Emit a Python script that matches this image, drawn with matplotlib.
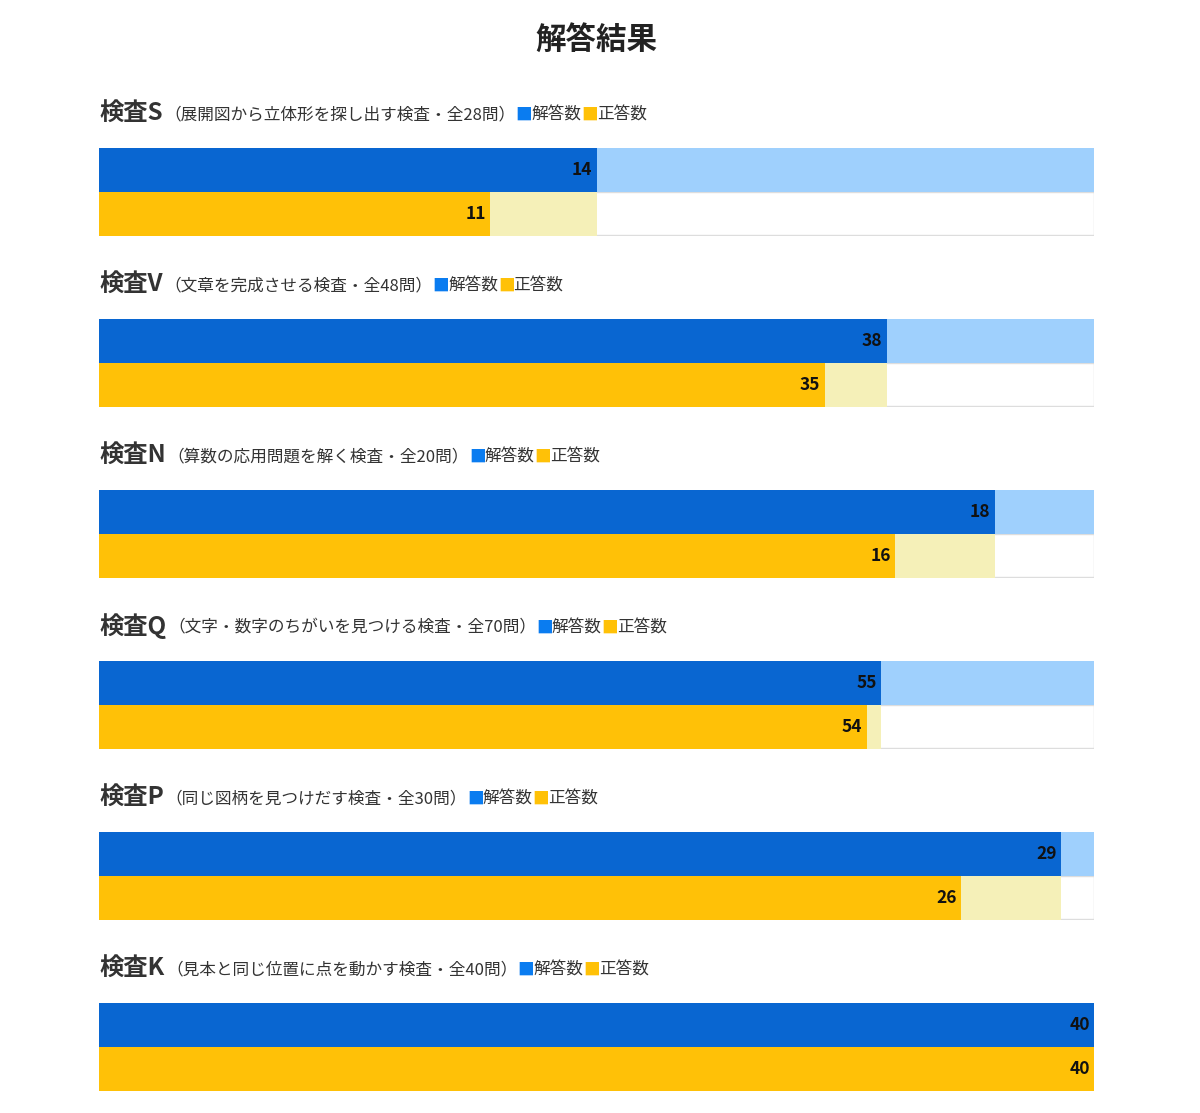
import matplotlib
matplotlib.use("Agg")
import matplotlib.pyplot as plt
from matplotlib.patches import Rectangle

plt.rcParams['font.family'] = ['Noto Sans CJK JP', 'DejaVu Sans']

tests = ["検査S", "検査V", "検査N", "検査Q", "検査P", "検査K"]
descs = ["（展開図から立体形を探し出す検査・全28問）", "（文章を完成させる検査・全48問）",
         "（算数の応用問題を解く検査・全20問）", "（文字・数字のちがいを見つける検査・全70問）",
         "（同じ図柄を見つけだす検査・全30問）", "（見本と同じ位置に点を動かす検査・全40問）"]
totals = [28, 48, 20, 70, 30, 40]
answered = [14, 38, 18, 55, 29, 40]
correct = [11, 35, 16, 54, 26, 40]

BLUE, LBLUE = "#0966d1", "#9fd0fd"
YEL, LYEL = "#ffc107", "#f5f0b8"

W, H = 1200, 1113
fig = plt.figure(figsize=(W / 100, H / 100), dpi=100)
fig.text(596 / W, 1 - 40 / H, "解答結果", ha="center", va="center", fontsize=22, fontweight="bold", color="#222")
renderer = fig.canvas.get_renderer()

def seq_text(x, y, s, **kw):
    t = fig.text(x / W, 1 - y / H, s, va="center", ha="left", **kw)
    bb = t.get_window_extent(renderer=renderer)
    return x + bb.width

for i in range(len(tests)):
    y0 = 113 + 171 * i
    x = seq_text(99, y0, tests[i], fontsize=17.5, fontweight="bold", color="#333")
    x = seq_text(x + 2, y0 + 2, descs[i], fontsize=12, color="#333")
    x = seq_text(x, y0 + 2, "■", fontsize=12, color="#0a7cf0")
    x = seq_text(x - 1, y0 + 2, "解答数", fontsize=12, color="#333")
    x = seq_text(x, y0 + 2, "■", fontsize=12, color=YEL)
    seq_text(x - 1, y0 + 2, "正答数", fontsize=12, color="#333")

    top, bot = y0 + 35, y0 + 123
    ax = fig.add_axes([99 / W, 1 - bot / H, 995 / W, (bot - top) / H])
    ax.set_xlim(0, totals[i])
    ax.set_ylim(0, 2)
    ax.axis("off")
    ax.add_patch(Rectangle((0, 0.02), totals[i], 0.98, facecolor="white", edgecolor="#dddddd", lw=1))
    ax.barh(1.5, totals[i], height=0.98, color=LBLUE)
    ax.barh(1.5, answered[i], height=0.98, color=BLUE)
    ax.barh(0.5, answered[i], height=0.98, color=LYEL)
    ax.barh(0.5, correct[i], height=0.98, color=YEL)
    ax.annotate(str(answered[i]), (answered[i], 1.5), xytext=(-3, 0), textcoords="offset points",
                ha="right", va="center", fontsize=12.5, fontweight="bold", color="#111")
    ax.annotate(str(correct[i]), (correct[i], 0.5), xytext=(-3, 0), textcoords="offset points",
                ha="right", va="center", fontsize=12.5, fontweight="bold", color="#111")

fig.savefig("out.png", dpi=100, facecolor="white")
